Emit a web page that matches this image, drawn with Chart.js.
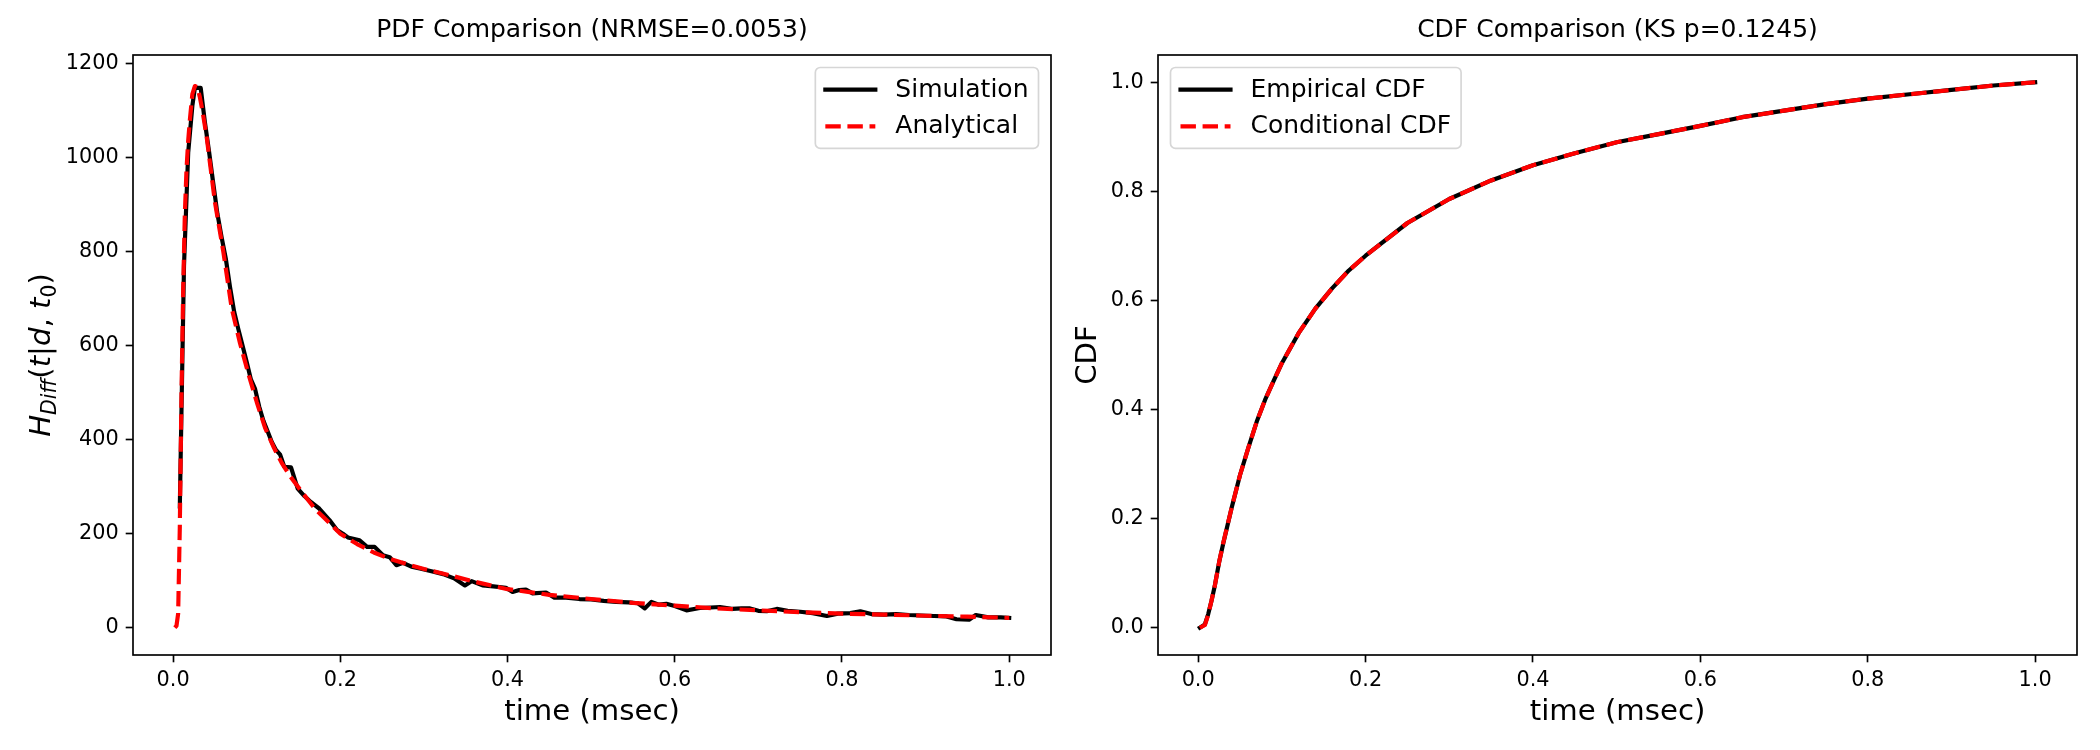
<!DOCTYPE html>
<html>
<head>
<meta charset="utf-8">
<script src="https://cdn.jsdelivr.net/npm/chart.js@4.4.0/dist/chart.umd.min.js"></script>
<style>
  html, body { margin: 0; padding: 0; background: #fff; }
  #wrap { position: relative; width: 2100px; height: 750px; }
  canvas { position: absolute; top: 0; }
</style>
</head>
<body>
<div id="wrap">
  <canvas id="pdfChart" width="1065" height="750" style="left:0"></canvas>
  <canvas id="cdfChart" width="1035" height="750" style="left:1065px"></canvas>
</div>
<script>
// ---- data ----
const pdfTime = [0.002, 0.004, 0.006, 0.008, 0.010, 0.012, 0.014, 0.016, 0.018, 0.020, 0.023, 0.026, 0.029, 0.032, 0.035,
  0.040, 0.045, 0.050, 0.060, 0.070, 0.080, 0.090, 0.100, 0.110, 0.120, 0.130, 0.140, 0.150, 0.160, 0.170, 0.180,
  0.200, 0.220, 0.240, 0.260, 0.280, 0.300, 0.330, 0.360, 0.400, 0.450, 0.500, 0.550, 0.600, 0.650, 0.700, 0.750,
  0.800, 0.850, 0.900, 0.950, 1.000];
const analyticalPdf = [0, 4, 30, 215, 500, 720, 880, 975, 1035, 1080, 1135, 1152, 1150, 1128, 1100,
  1045, 975, 905, 800, 680, 605, 540, 480, 425, 385, 350, 322, 298, 275, 252, 235,
  200, 178, 160, 146, 135, 125, 112, 98, 82, 70, 61, 53, 47, 41, 37, 33,
  30, 28, 25.5, 23.5, 21];

const simTime = [0.008, 0.013, 0.018, 0.023, 0.026, 0.033, 0.038, 0.043, 0.048, 0.053, 0.058, 0.063, 0.068, 0.073,
  0.078, 0.083, 0.088, 0.093, 0.098, 0.103, 0.108, 0.113, 0.118, 0.123, 0.128, 0.133, 0.141, 0.149, 0.157, 0.165,
  0.175, 0.187, 0.196, 0.203, 0.209, 0.223, 0.232, 0.241, 0.251, 0.259, 0.267, 0.275, 0.285, 0.295, 0.309, 0.323,
  0.336, 0.349, 0.357, 0.370, 0.383, 0.398, 0.406, 0.414, 0.422, 0.430, 0.446, 0.456, 0.470, 0.486, 0.500, 0.515,
  0.530, 0.545, 0.556, 0.564, 0.572, 0.581, 0.590, 0.600, 0.614, 0.630, 0.643, 0.654, 0.668, 0.680, 0.690, 0.700,
  0.710, 0.722, 0.735, 0.750, 0.765, 0.782, 0.795, 0.810, 0.822, 0.835, 0.850, 0.865, 0.880, 0.895, 0.910, 0.925,
  0.937, 0.952, 0.960, 0.975, 0.990, 1.000];
const simulationPdf = [258, 770, 1010, 1110, 1148, 1148, 1075, 1012, 945, 880, 830, 785, 725, 672,
  635, 600, 565, 528, 508, 470, 440, 418, 395, 378, 368, 342, 341, 296, 280, 267,
  253, 229, 208, 200, 192, 186, 172, 172, 154, 150, 133, 138, 130, 126, 120, 114,
  105, 90, 99, 90, 88, 85, 76, 80, 81, 73, 75, 64, 64, 61, 60, 57,
  55, 54, 52, 41, 55, 49, 51, 46, 37, 42, 43, 44, 40, 41, 41, 36,
  35, 40, 36, 34, 31, 25, 30, 31, 35, 29, 28, 29, 27, 26, 25, 24,
  18, 17, 27, 22, 22, 21];

const cdfTime = [0.002, 0.008, 0.012, 0.016, 0.020, 0.025, 0.030, 0.040, 0.050, 0.060, 0.070, 0.080, 0.090, 0.100,
  0.120, 0.140, 0.160, 0.180, 0.200, 0.250, 0.300, 0.350, 0.400, 0.450, 0.500, 0.550, 0.600, 0.650, 0.700, 0.750,
  0.800, 0.850, 0.900, 0.950, 1.000];
const empiricalCdf = [0, 0.006, 0.025, 0.05, 0.078, 0.12, 0.155, 0.22, 0.28, 0.33, 0.378, 0.418, 0.452, 0.485,
  0.54, 0.585, 0.622, 0.655, 0.682, 0.742, 0.786, 0.82, 0.848, 0.87, 0.89, 0.905, 0.92, 0.936, 0.948, 0.96,
  0.97, 0.978, 0.986, 0.994, 1.0];
const conditionalCdf = [0, 0.005, 0.024, 0.05, 0.078, 0.12, 0.156, 0.22, 0.28, 0.33, 0.378, 0.418, 0.452, 0.485,
  0.54, 0.585, 0.622, 0.655, 0.682, 0.742, 0.786, 0.82, 0.848, 0.87, 0.89, 0.905, 0.92, 0.936, 0.948, 0.96,
  0.97, 0.978, 0.986, 0.994, 1.0];

const timeTicks = [0, 0.2, 0.4, 0.6, 0.8, 1.0];
const timeTickLabels = ["0.0", "0.2", "0.4", "0.6", "0.8", "1.0"];
const pdfTicks = [0, 200, 400, 600, 800, 1000, 1200];
const pdfTickLabels = ["0", "200", "400", "600", "800", "1000", "1200"];
const cdfTicks = [0, 0.2, 0.4, 0.6, 0.8, 1.0];
const cdfTickLabels = ["0.0", "0.2", "0.4", "0.6", "0.8", "1.0"];

// ---- matplotlib-like look ----
const FONT = '"DejaVu Sans"';
const LW = 2 * 150 / 72;          // 2pt line at 150 dpi
const DASH = [3.7 * LW, 1.6 * LW];

function toPoints(xs, ys) {
  return xs.map((x, i) => ({ x: x, y: ys[i] }));
}

function drawRich(ctx, bx, cy, parts, size) {
  // rotated text reading bottom-to-top, baseline at x = bx
  let total = 0;
  parts.forEach(p => {
    ctx.font = (p.it ? "italic " : "") + (p.sub ? size * 0.7 : size) + "px " + FONT;
    p.w = ctx.measureText(p.t).width;
    total += p.w;
  });
  ctx.save();
  ctx.translate(bx, cy);
  ctx.rotate(-Math.PI / 2);
  ctx.fillStyle = "#000";
  ctx.textBaseline = "alphabetic";
  ctx.textAlign = "left";
  let x = -total / 2;
  parts.forEach(p => {
    ctx.font = (p.it ? "italic " : "") + (p.sub ? size * 0.7 : size) + "px " + FONT;
    ctx.fillText(p.t, x, p.sub ? size * 0.2 : 0);
    x += p.w;
  });
  ctx.restore();
}

function drawLegend(chart, loc) {
  const ctx = chart.ctx, a = chart.chartArea;
  const fs = 25, pad = 0.4 * fs, hl = 2 * fs, htp = 0.8 * fs, ls = 0.5 * fs, rowH = 0.968 * fs;
  const sets = chart.data.datasets;
  ctx.save();
  ctx.font = fs + "px " + FONT;
  const tw = Math.max(...sets.map(d => ctx.measureText(d.label).width));
  const w = 2 * pad + hl + htp + tw;
  const h = 2 * pad + sets.length * rowH + (sets.length - 1) * ls;
  const x0 = loc === "right" ? a.right - 0.5 * fs - w : a.left + 0.5 * fs;
  const y0 = a.top + 0.5 * fs;
  ctx.beginPath();
  ctx.roundRect(x0, y0, w, h, 0.2 * fs);
  ctx.fillStyle = "rgba(255,255,255,0.8)";
  ctx.fill();
  ctx.lineWidth = 1.67;
  ctx.strokeStyle = "rgba(204,204,204,0.8)";
  ctx.stroke();
  sets.forEach((d, i) => {
    const top = y0 + pad + i * (rowH + ls);
    const yc = top + rowH / 2;
    ctx.beginPath();
    ctx.setLineDash(d.borderDash || []);
    ctx.lineCap = d.borderCapStyle || "butt";
    ctx.lineWidth = d.borderWidth;
    ctx.strokeStyle = d.borderColor;
    ctx.moveTo(x0 + pad, yc);
    ctx.lineTo(x0 + pad + hl, yc);
    ctx.stroke();
    ctx.setLineDash([]);
    ctx.fillStyle = "#000";
    ctx.textBaseline = "alphabetic";
    ctx.textAlign = "left";
    ctx.fillText(d.label, x0 + pad + hl + htp, top + 0.76 * fs);
  });
  ctx.restore();
}

const mplDecor = {
  id: "mplDecor",
  afterDatasetsDraw(chart, args, opts) {
    const ctx = chart.ctx, a = chart.chartArea;
    ctx.save();
    // frame (all four spines)
    ctx.lineWidth = 1.67;
    ctx.strokeStyle = "#000";
    ctx.strokeRect(a.left, a.top, a.right - a.left, a.bottom - a.top);
    // title
    const cx = (a.left + a.right) / 2;
    ctx.fillStyle = "#000";
    ctx.textAlign = "center";
    ctx.textBaseline = "alphabetic";
    ctx.font = "25px " + FONT;
    ctx.fillText(opts.title, cx, a.top - 17.7);
    // x label
    ctx.font = "29.2px " + FONT;
    ctx.fillText(opts.xLabel, cx, a.bottom + 65);
    ctx.restore();
    // y label
    drawRich(ctx, opts.yLabelX, (a.top + a.bottom) / 2, opts.yLabel, 29.2);
    drawLegend(chart, opts.legendLoc);
  }
};

function makeScales(yMin, yMax, yTicks, yLabels, yWidth) {
  const tickFont = { family: "DejaVu Sans", size: 20.8 };
  const grid = { drawOnChartArea: false, drawTicks: true, tickLength: 7.3, tickWidth: 1.67, tickColor: "#000" };
  return {
    x: {
      type: "linear", min: -0.048, max: 1.05,
      grid: grid, border: { display: false },
      afterBuildTicks: s => { s.ticks = timeTicks.map(v => ({ value: v })); },
      afterFit: s => { s.height = 95; },
      ticks: { font: tickFont, color: "#000", padding: 6, autoSkip: false, maxRotation: 0,
        callback: (v, i) => timeTickLabels[i] }
    },
    y: {
      type: "linear", min: yMin, max: yMax,
      grid: grid, border: { display: false },
      afterBuildTicks: s => { s.ticks = yTicks.map(v => ({ value: v })); },
      afterFit: s => { s.width = yWidth; },
      ticks: { font: tickFont, color: "#000", padding: 7, autoSkip: false,
        callback: (v, i) => yLabels[i] }
    }
  };
}

function lineSet(label, color, pts, dashed, order) {
  return {
    label: label, data: pts, borderColor: color, backgroundColor: color,
    borderWidth: LW, borderDash: dashed ? DASH : [],
    borderCapStyle: dashed ? "butt" : "square", borderJoinStyle: "round",
    pointRadius: 0, tension: 0, fill: false, order: order
  };
}

new Chart(document.getElementById("pdfChart"), {
  type: "line",
  data: {
    datasets: [
      lineSet("Simulation", "#000000", toPoints(simTime, simulationPdf), false, 2),
      lineSet("Analytical", "#ff0000", toPoints(pdfTime, analyticalPdf), true, 1)
    ]
  },
  options: {
    responsive: false, animation: false, devicePixelRatio: 1,
    layout: { padding: { top: 55, right: 14, bottom: 0, left: 0 } },
    scales: makeScales(-58, 1218, pdfTicks, pdfTickLabels, 133),
    plugins: {
      legend: { display: false }, tooltip: { enabled: false },
      mplDecor: {
        title: "PDF Comparison (NRMSE=0.0053)",
        xLabel: "time (msec)",
        yLabelX: 50,
        legendLoc: "right",
        yLabel: [
          { t: "H", it: true }, { t: "Diff", it: true, sub: true },
          { t: "(" }, { t: "t", it: true }, { t: "|" }, { t: "d", it: true }, { t: ", " },
          { t: "t", it: true }, { t: "0", sub: true }, { t: ")" }
        ]
      }
    }
  },
  plugins: [mplDecor]
});

new Chart(document.getElementById("cdfChart"), {
  type: "line",
  data: {
    datasets: [
      lineSet("Empirical CDF", "#000000", toPoints(cdfTime, empiricalCdf), false, 2),
      lineSet("Conditional CDF", "#ff0000", toPoints(cdfTime, conditionalCdf), true, 1)
    ]
  },
  options: {
    responsive: false, animation: false, devicePixelRatio: 1,
    layout: { padding: { top: 55, right: 23, bottom: 0, left: 0 } },
    scales: makeScales(-0.05, 1.05, cdfTicks, cdfTickLabels, 93),
    plugins: {
      legend: { display: false }, tooltip: { enabled: false },
      mplDecor: {
        title: "CDF Comparison (KS p=0.1245)",
        xLabel: "time (msec)",
        yLabelX: 31,
        legendLoc: "left",
        yLabel: [{ t: "CDF" }]
      }
    }
  },
  plugins: [mplDecor]
});
</script>
</body>
</html>
